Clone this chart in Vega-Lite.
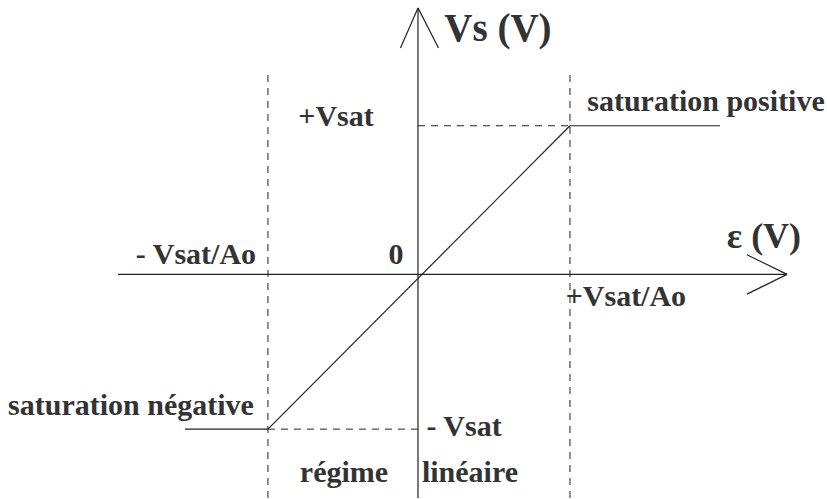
{
  "$schema": "https://vega.github.io/schema/vega-lite/v6.json",
  "width": 827,
  "height": 499,
  "autosize": {"type": "fit", "contains": "padding"},
  "padding": 0,
  "background": "white",
  "config": {"view": {"stroke": null}},
  "datasets": {
    "solid": [
      {"x": -1.974, "y": 0, "x2": 2.428, "y2": 0},
      {"x": 2.164, "y": 0.13, "x2": 2.428, "y2": 0},
      {"x": 2.164, "y": -0.13, "x2": 2.428, "y2": 0},
      {"x": 0, "y": -1.474, "x2": 0, "y2": 1.757},
      {"x": -0.115, "y": 1.493, "x2": 0, "y2": 1.757},
      {"x": 0.135, "y": 1.493, "x2": 0, "y2": 1.757},
      {"x": -1.533, "y": -1.02, "x2": -0.987, "y2": -1.02},
      {"x": -0.987, "y": -1.02, "x2": 1.0, "y2": 0.98},
      {"x": 1.0, "y": 0.98, "x2": 1.987, "y2": 0.98}
    ],
    "dashed": [
      {"x": -0.987, "y": -1.474, "x2": -0.987, "y2": 1.316},
      {"x": 1.0, "y": -1.474, "x2": 1.0, "y2": 1.316},
      {"x": 0, "y": 0.98, "x2": 1.0, "y2": 0.98},
      {"x": -0.987, "y": -1.02, "x2": 0, "y2": -1.02}
    ],
    "axisTitles": [
      {"x": 0.526, "y": 1.539, "label": "Vs (V)"}
    ],
    "epsTitle": [
      {"x": 2.276, "y": 0.171, "label": "ε (V)"}
    ],
    "labels": [
      {"x": -0.539, "y": 0.98, "label": "+Vsat"},
      {"x": 1.895, "y": 1.079, "label": "saturation positive"},
      {"x": -1.461, "y": 0.066, "label": "- Vsat/Ao"},
      {"x": -0.145, "y": 0.066, "label": "0"},
      {"x": 1.368, "y": -0.211, "label": "+Vsat/Ao"},
      {"x": -1.888, "y": -0.928, "label": "saturation négative"},
      {"x": 0.303, "y": -1.066, "label": "- Vsat"},
      {"x": -0.487, "y": -1.368, "label": "régime"},
      {"x": 0.342, "y": -1.368, "label": "linéaire"}
    ]
  },
  "layer": [
    {
      "data": {"name": "dashed"},
      "mark": {"type": "rule", "color": "#222", "strokeWidth": 1, "strokeDash": [7, 6]},
      "encoding": {
        "x": {"field": "x", "type": "quantitative", "scale": {"domain": [-2.75, 2.691], "nice": false, "zero": false}, "axis": null},
        "y": {"field": "y", "type": "quantitative", "scale": {"domain": [-1.474, 1.809], "nice": false, "zero": false}, "axis": null},
        "x2": {"field": "x2"},
        "y2": {"field": "y2"}
      }
    },
    {
      "data": {"name": "solid"},
      "mark": {"type": "rule", "color": "#222", "strokeWidth": 1.2},
      "encoding": {
        "x": {"field": "x", "type": "quantitative"},
        "y": {"field": "y", "type": "quantitative"},
        "x2": {"field": "x2"},
        "y2": {"field": "y2"}
      }
    },
    {
      "data": {"name": "labels"},
      "mark": {"type": "text", "font": "Liberation Serif", "fontWeight": "bold", "fontSize": 30, "color": "#333", "align": "center", "baseline": "alphabetic"},
      "encoding": {
        "x": {"field": "x", "type": "quantitative"},
        "y": {"field": "y", "type": "quantitative"},
        "text": {"field": "label"}
      }
    },
    {
      "data": {"name": "axisTitles"},
      "mark": {"type": "text", "font": "Liberation Serif", "fontWeight": "bold", "fontSize": 39, "color": "#333", "align": "center", "baseline": "alphabetic"},
      "encoding": {
        "x": {"field": "x", "type": "quantitative"},
        "y": {"field": "y", "type": "quantitative"},
        "text": {"field": "label"}
      }
    },
    {
      "data": {"name": "epsTitle"},
      "mark": {"type": "text", "font": "Liberation Serif", "fontWeight": "bold", "fontSize": 36, "color": "#333", "align": "center", "baseline": "alphabetic"},
      "encoding": {
        "x": {"field": "x", "type": "quantitative"},
        "y": {"field": "y", "type": "quantitative"},
        "text": {"field": "label"}
      }
    }
  ]
}
